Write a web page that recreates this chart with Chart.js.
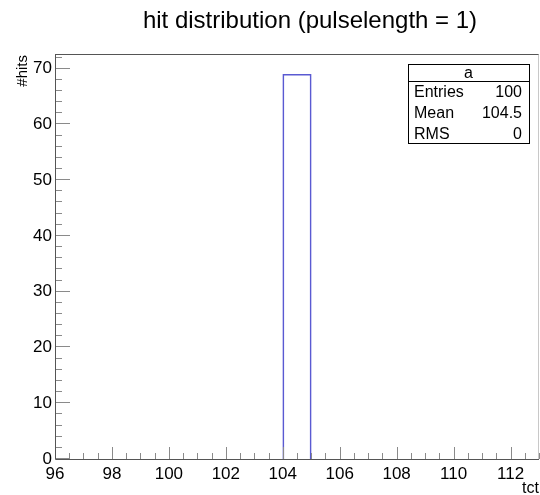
<!DOCTYPE html>
<html>
<head>
<meta charset="utf-8">
<script src="https://cdn.jsdelivr.net/npm/chart.js@4.4.1/dist/chart.umd.min.js"></script>
<style>
  html, body { margin: 0; padding: 0; background: #fff; }
  #wrap { width: 540px; height: 495px; position: relative; }
</style>
</head>
<body>
<div id="wrap"><canvas id="histo"></canvas></div>
<script>
// histogram bins (lower edges, width 1) and their contents
const binLow = [96, 97, 98, 99, 100, 101, 102, 103, 104, 105, 106, 107, 108, 109, 110, 111, 112];
const hits   = [0, 0, 0, 0, 0, 0, 0, 0, 69, 0, 0, 0, 0, 0, 0, 0, 0];

const xTicks = [96, 98, 100, 102, 104, 106, 108, 110, 112];
const yTicks = [0, 10, 20, 30, 40, 50, 60, 70];
const xRange = [96, 113];
const yRange = [0, 72.45];

const titleText = 'hit distribution (pulselength = 1)';
const statsName = 'a';
const statsLabels = ['Entries', 'Mean', 'RMS'];
const statsValues = ['100', '104.5', '0'];

const FONT = '"Liberation Sans", Arial, Helvetica, sans-serif';

// ROOT-like frame: inward ticks, axes, title and stats box
const rootFrame = {
  id: 'rootFrame',
  afterDatasetsDraw(chart) {
    const { ctx, chartArea: a, scales: { x, y } } = chart;
    ctx.save();
    ctx.lineWidth = 1;

    // ticks
    ctx.strokeStyle = '#8a8a8a';
    ctx.beginPath();
    for (let v = xRange[0]; v <= xRange[1] + 1e-9; v += 0.5) {
      const px = Math.round(x.getPixelForValue(v)) + 0.5;
      const len = xTicks.includes(v) ? 12 : 6;
      ctx.moveTo(px, a.bottom);
      ctx.lineTo(px, a.bottom - len);
    }
    for (let v = 0; v <= yRange[1]; v += 2) {
      const py = Math.round(y.getPixelForValue(v)) - 0.5;
      const len = yTicks.includes(v) ? 15 : 7;
      ctx.moveTo(a.left, py);
      ctx.lineTo(a.left + len, py);
    }
    ctx.stroke();

    // axes and frame
    ctx.strokeStyle = '#555';
    ctx.beginPath();
    ctx.moveTo(a.left + 0.5, a.top - 0.5);
    ctx.lineTo(a.left + 0.5, a.bottom + 0.5);
    ctx.lineTo(a.right, a.bottom + 0.5);
    ctx.moveTo(a.left, a.top - 0.5);
    ctx.lineTo(a.right, a.top - 0.5);
    ctx.stroke();
    ctx.strokeStyle = '#c8c8c8';
    ctx.beginPath();
    ctx.moveTo(a.right - 0.5, a.top - 0.5);
    ctx.lineTo(a.right - 0.5, a.bottom);
    ctx.stroke();

    // title
    ctx.fillStyle = '#000';
    ctx.font = '24px ' + FONT;
    ctx.textAlign = 'center';
    ctx.textBaseline = 'middle';
    ctx.fillText(titleText, 310, 21);

    // stats box
    const bx = a.right - 131, bw = 121, by = a.top + 9, bh = 79, hh = 17;
    ctx.fillStyle = '#fff';
    ctx.fillRect(bx, by, bw, bh);
    ctx.strokeStyle = '#000';
    ctx.strokeRect(bx + 0.5, by + 0.5, bw, bh);
    ctx.beginPath();
    ctx.moveTo(bx, by + hh + 0.5);
    ctx.lineTo(bx + bw, by + hh + 0.5);
    ctx.stroke();
    ctx.fillStyle = '#000';
    ctx.font = '16px ' + FONT;
    ctx.textAlign = 'center';
    ctx.fillText(statsName, bx + bw / 2, by + 9.5);
    const rowH = (bh - hh) / 3;
    statsLabels.forEach((lab, i) => {
      const ty = by + hh + rowH * (i + 0.5) + 1.5;
      ctx.textAlign = 'left';
      ctx.fillText(lab, bx + 6, ty);
      ctx.textAlign = 'right';
      ctx.fillText(statsValues[i], bx + bw - 7, ty);
    });
    ctx.restore();
  }
};

const ctx = document.getElementById('histo').getContext('2d');
new Chart(ctx, {
  type: 'bar',
  data: {
    datasets: [{
      data: binLow.map((lo, i) => ({ x: lo + 0.5, y: hits[i] })),
      backgroundColor: 'rgba(255,255,255,0)',
      borderColor: '#5a5ad2',
      borderWidth: 1,
      borderSkipped: 'bottom',
      barPercentage: 1,
      categoryPercentage: 1
    }]
  },
  options: {
    responsive: true,
    maintainAspectRatio: false,
    animation: false,
    events: [],
    layout: { padding: { top: 55, right: 1, left: 0, bottom: 0 } },
    plugins: { legend: { display: false }, tooltip: { enabled: false } },
    scales: {
      x: {
        type: 'linear',
        min: xRange[0],
        max: xRange[1],
        offset: false,
        afterBuildTicks: s => { s.ticks = xTicks.map(v => ({ value: v })); },
        afterFit: s => { s.height = 36; },
        grid: { display: false, drawTicks: false },
        border: { display: false },
        ticks: { color: '#000', padding: 5, maxRotation: 0, font: { family: FONT, size: 17 } },
        title: {
          display: true, text: 'tct', align: 'end', color: '#000',
          padding: { top: 0, bottom: -3 }, font: { family: FONT, size: 16 }
        }
      },
      y: {
        min: yRange[0],
        max: yRange[1],
        afterBuildTicks: s => { s.ticks = yTicks.map(v => ({ value: v })); },
        afterFit: s => { s.width = 55; },
        grid: { display: false, drawTicks: false },
        border: { display: false },
        ticks: { color: '#000', padding: 3, font: { family: FONT, size: 17 } },
        title: {
          display: true, text: '#hits', align: 'end', color: '#000',
          padding: { top: 14, bottom: 0 }, font: { family: FONT, size: 15 }
        }
      }
    }
  },
  plugins: [rootFrame]
});
</script>
</body>
</html>
